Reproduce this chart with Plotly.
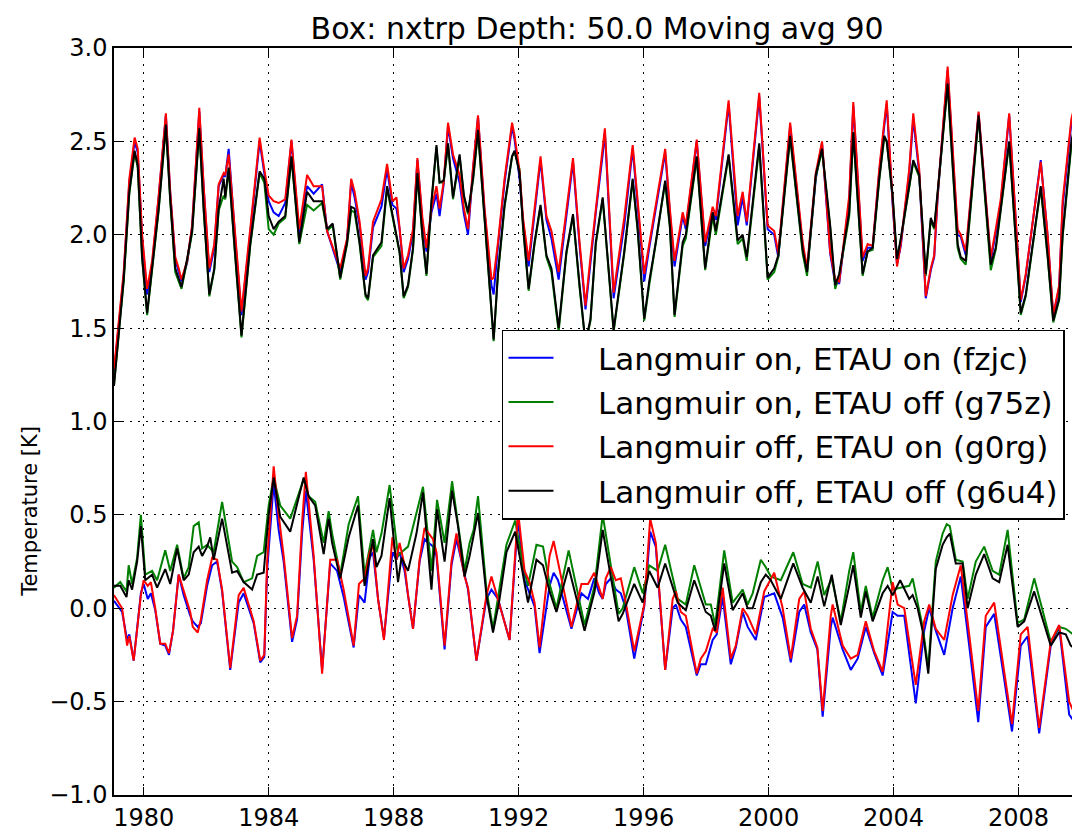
import plotly.graph_objects as go

# ---------------- data ----------------
years_upper = [1979.05, 1979.36, 1979.54, 1979.71, 1979.81, 1979.95, 1980.11, 1980.27, 1980.48, 1980.71,
               1980.85, 1981.01, 1981.12, 1981.21, 1981.39, 1981.55, 1981.78, 1981.92, 1982.10, 1982.26,
               1982.40, 1982.56, 1982.61, 1982.72, 1982.93, 1983.13, 1983.41, 1983.71, 1983.86, 1984.00,
               1984.16, 1984.32, 1984.53, 1984.73, 1984.98, 1985.23, 1985.44, 1985.71, 1985.87, 1986.05,
               1986.29, 1986.51, 1986.64, 1986.75, 1986.91, 1987.10, 1987.18, 1987.34, 1987.61, 1987.79,
               1987.96, 1988.09, 1988.19, 1988.32, 1988.46, 1988.62, 1988.76, 1988.92, 1989.05, 1989.21,
               1989.37, 1989.47, 1989.60, 1989.74, 1989.90, 1990.11, 1990.25, 1990.38, 1990.54, 1990.70,
               1990.91, 1991.13, 1991.20, 1991.34, 1991.55, 1991.79, 1991.87, 1992.03, 1992.14, 1992.32,
               1992.51, 1992.70, 1992.89, 1993.05, 1993.28, 1993.53, 1993.74, 1993.95, 1994.14, 1994.30,
               1994.47, 1994.69, 1994.76, 1995.04, 1995.38, 1995.65, 1995.81, 1996.02, 1996.18, 1996.39,
               1996.69, 1996.84, 1996.99, 1997.25, 1997.35, 1997.70, 1997.97, 1998.21, 1998.31, 1998.72,
               1999.01, 1999.17, 1999.30, 1999.70, 1999.97, 2000.18, 2000.31, 2000.69, 2001.09, 2001.23,
               2001.51, 2001.71, 2001.97, 2002.13, 2002.26, 2002.58, 2002.71, 2003.01, 2003.17, 2003.33,
               2003.54, 2003.70, 2003.78, 2003.97, 2004.11, 2004.23, 2004.50, 2004.63, 2004.82, 2005.03,
               2005.19, 2005.30, 2005.41, 2005.73, 2006.05, 2006.15, 2006.31, 2006.72, 2007.11, 2007.27,
               2007.43, 2007.70, 2008.07, 2008.23, 2008.71, 2008.93, 2009.11, 2009.30, 2009.41, 2009.69,
               2009.75]

upper_g0rg = [1.28, 1.80, 2.30, 2.52, 2.46, 2.00, 1.71, 1.86, 2.21, 2.65,
              2.23, 1.88, 1.82, 1.76, 1.86, 2.05, 2.68, 2.26, 1.82, 1.95,
              2.27, 2.33, 2.32, 2.43, 2.00, 1.59, 2.03, 2.52, 2.35, 2.21,
              2.18, 2.17, 2.19, 2.51, 2.03, 2.32, 2.26, 2.26, 2.02, 1.93,
              1.82, 1.98, 2.30, 2.23, 2.07, 1.78, 1.82, 2.07, 2.19, 2.38,
              2.18, 2.20, 2.05, 1.82, 1.89, 2.03, 2.41, 2.09, 1.93, 2.14,
              2.26, 2.14, 2.28, 2.60, 2.43, 2.32, 2.14, 2.03, 2.36, 2.64,
              2.14, 1.76, 1.77, 1.96, 2.30, 2.60, 2.53, 2.34, 2.09, 1.86,
              2.14, 2.42, 2.10, 2.02, 1.80, 2.14, 2.41, 1.96, 1.62, 1.88,
              2.14, 2.45, 2.57, 1.69, 2.09, 2.48, 2.18, 1.79, 1.95, 2.16,
              2.46, 2.14, 1.86, 2.12, 2.05, 2.51, 1.96, 2.15, 2.10, 2.72,
              2.10, 2.23, 2.07, 2.76, 2.05, 2.02, 1.90, 2.60, 1.96, 1.82,
              2.33, 2.50, 1.91, 1.76, 1.75, 2.21, 2.71, 1.88, 1.95, 1.94,
              2.35, 2.60, 2.72, 2.18, 1.83, 1.95, 2.35, 2.65, 2.35, 1.67,
              1.82, 1.89, 2.21, 2.90, 2.03, 2.00, 1.91, 2.66, 1.88, 2.03,
              2.19, 2.65, 1.65, 1.79, 2.39, 2.00, 1.57, 1.73, 2.18, 2.62,
              2.66]

upper_fzjc = [1.26, 1.78, 2.28, 2.50, 2.44, 1.98, 1.68, 1.84, 2.20, 2.64,
              2.22, 1.87, 1.80, 1.75, 1.85, 2.04, 2.66, 2.25, 1.80, 1.93,
              2.26, 2.32, 2.31, 2.46, 1.98, 1.57, 2.01, 2.50, 2.33, 2.18,
              2.12, 2.10, 2.17, 2.50, 2.00, 2.26, 2.22, 2.27, 2.02, 1.92,
              1.80, 1.97, 2.28, 2.20, 2.05, 1.76, 1.80, 2.04, 2.15, 2.35,
              2.16, 2.14, 2.03, 1.80, 1.87, 2.01, 2.40, 2.07, 1.91, 2.12,
              2.22, 2.10, 2.27, 2.58, 2.41, 2.28, 2.11, 2.00, 2.35, 2.63,
              2.12, 1.73, 1.68, 1.94, 2.28, 2.58, 2.51, 2.30, 2.07, 1.83,
              2.12, 2.40, 2.08, 1.98, 1.76, 2.12, 2.39, 1.94, 1.60, 1.85,
              2.12, 2.43, 2.55, 1.66, 2.05, 2.46, 2.15, 1.75, 1.93, 2.14,
              2.44, 2.12, 1.83, 2.10, 2.03, 2.50, 1.94, 2.12, 2.08, 2.70,
              2.05, 2.20, 2.05, 2.74, 2.03, 2.00, 1.88, 2.58, 1.94, 1.80,
              2.30, 2.49, 1.90, 1.74, 1.74, 2.18, 2.69, 1.86, 1.93, 1.93,
              2.33, 2.58, 2.70, 2.16, 1.84, 1.94, 2.33, 2.62, 2.33, 1.66,
              1.81, 1.88, 2.20, 2.88, 2.00, 1.99, 1.89, 2.65, 1.86, 2.01,
              2.17, 2.64, 1.64, 1.78, 2.40, 1.99, 1.56, 1.72, 2.15, 2.60,
              2.64]

upper_g6u4 = [1.19, 1.76, 2.23, 2.45, 2.37, 1.88, 1.58, 1.82, 2.14, 2.59,
              2.19, 1.82, 1.76, 1.72, 1.87, 2.02, 2.57, 2.14, 1.68, 1.82,
              2.14, 2.30, 2.20, 2.36, 1.89, 1.46, 1.95, 2.34, 2.30, 2.10,
              2.03, 2.07, 2.10, 2.42, 1.96, 2.23, 2.18, 2.18, 2.03, 2.06,
              1.77, 1.96, 2.15, 2.14, 1.96, 1.68, 1.66, 1.89, 1.96, 2.26,
              2.11, 2.00, 1.91, 1.67, 1.73, 1.93, 2.33, 2.00, 1.79, 2.18,
              2.48, 2.28, 2.29, 2.49, 2.20, 2.43, 2.21, 2.12, 2.30, 2.56,
              2.09, 1.64, 1.44, 1.80, 2.16, 2.42, 2.45, 2.33, 2.05, 1.71,
              1.96, 2.16, 1.89, 1.82, 1.50, 1.91, 2.11, 1.73, 1.42, 1.55,
              1.96, 2.20, 2.05, 1.49, 1.91, 2.30, 2.03, 1.55, 1.75, 1.96,
              2.29, 2.05, 1.57, 1.96, 2.00, 2.42, 1.82, 2.12, 2.02, 2.43,
              1.97, 2.00, 1.88, 2.49, 1.77, 1.82, 1.89, 2.53, 1.92, 1.80,
              2.32, 2.46, 2.05, 1.73, 1.79, 2.12, 2.55, 1.79, 1.91, 1.93,
              2.30, 2.53, 2.50, 2.21, 1.87, 1.98, 2.26, 2.40, 2.32, 1.79,
              2.09, 2.04, 2.23, 2.81, 1.95, 1.88, 1.86, 2.64, 1.84, 1.93,
              2.14, 2.50, 1.58, 1.68, 2.26, 1.89, 1.54, 1.66, 2.00, 2.50,
              2.55]

upper_g75z = [1.20, 1.75, 2.22, 2.44, 2.36, 1.87, 1.57, 1.80, 2.13, 2.58,
              2.18, 1.80, 1.75, 1.71, 1.86, 2.01, 2.56, 2.13, 1.67, 1.81,
              2.13, 2.21, 2.19, 2.35, 1.88, 1.45, 1.94, 2.33, 2.28, 2.03,
              2.00, 2.06, 2.09, 2.41, 1.95, 2.16, 2.13, 2.17, 2.02, 2.05,
              1.76, 1.95, 2.13, 2.12, 1.95, 1.67, 1.65, 1.88, 1.94, 2.25,
              2.10, 1.99, 1.90, 1.66, 1.72, 1.92, 2.32, 1.99, 1.78, 2.17,
              2.47, 2.28, 2.28, 2.48, 2.19, 2.42, 2.20, 2.11, 2.29, 2.55,
              2.08, 1.63, 1.43, 1.79, 2.15, 2.42, 2.44, 2.35, 2.04, 1.70,
              1.95, 2.15, 1.88, 1.80, 1.48, 1.90, 2.10, 1.72, 1.41, 1.54,
              1.95, 2.19, 2.04, 1.48, 1.90, 2.29, 2.02, 1.54, 1.73, 1.95,
              2.28, 2.04, 1.56, 1.94, 1.98, 2.41, 1.81, 2.10, 2.00, 2.42,
              1.95, 1.98, 1.86, 2.47, 1.76, 1.80, 1.88, 2.52, 1.90, 1.78,
              2.31, 2.45, 2.04, 1.71, 1.78, 2.10, 2.54, 1.78, 1.91, 1.92,
              2.29, 2.52, 2.50, 2.20, 1.86, 1.97, 2.25, 2.39, 2.31, 1.78,
              2.08, 2.03, 2.22, 2.80, 1.93, 1.87, 1.84, 2.63, 1.81, 1.92,
              2.13, 2.49, 1.57, 1.67, 2.25, 1.88, 1.53, 1.65, 1.99, 2.48,
              2.53]

years_lower_on = [1979.05, 1979.31, 1979.47, 1979.54, 1979.68, 1979.80, 1979.91, 1980.00, 1980.13, 1980.23,
                  1980.37, 1980.53, 1980.69, 1980.81, 1980.94, 1981.12, 1981.28, 1981.49, 1981.57, 1981.73,
                  1981.83, 1982.03, 1982.19, 1982.35, 1982.51, 1982.77, 1983.04, 1983.20, 1983.52, 1983.73,
                  1983.86, 1983.95, 1984.16, 1984.32, 1984.48, 1984.75, 1984.91, 1985.07, 1985.19, 1985.44,
                  1985.71, 1985.97, 1986.19, 1986.40, 1986.72, 1986.89, 1987.07, 1987.23, 1987.34, 1987.50,
                  1987.69, 1987.96, 1988.09, 1988.19, 1988.35, 1988.46, 1988.62, 1988.83, 1988.99, 1989.26,
                  1989.37, 1989.63, 1989.85, 1990.01, 1990.27, 1990.38, 1990.65, 1990.97, 1991.13, 1991.34,
                  1991.71, 1991.98, 1992.19, 1992.35, 1992.51, 1992.67, 1992.99, 1993.12, 1993.26, 1993.69,
                  1994.01, 1994.22, 1994.42, 1994.58, 1994.69, 1994.79, 1994.95, 1995.11, 1995.27, 1995.43,
                  1995.70, 1996.02, 1996.21, 1996.39, 1996.69, 1996.93, 1997.03, 1997.19, 1997.35, 1997.70,
                  1997.83, 1997.99, 1998.21, 1998.34, 1998.53, 1998.79, 1998.95, 1999.17, 1999.33, 1999.59,
                  1999.86, 2000.18, 2000.45, 2000.71, 2000.98, 2001.14, 2001.35, 2001.56, 2001.73, 2001.99,
                  2002.05, 2002.37, 2002.63, 2002.85, 2003.11, 2003.38, 2003.65, 2003.97, 2004.13, 2004.34,
                  2004.71, 2004.98, 2005.14, 2005.35, 2005.62, 2005.89, 2006.15, 2006.42, 2006.71, 2006.95,
                  2007.22, 2007.54, 2007.79, 2008.07, 2008.29, 2008.66, 2009.03, 2009.30, 2009.62, 2009.75]

lower_g0rg = [0.07, 0.00, -0.20, -0.15, -0.28, -0.10, 0.07, 0.15, 0.12, 0.14,
              0.00, -0.19, -0.19, -0.24, -0.12, 0.18, 0.09, -0.02, -0.10, -0.13,
              -0.06, 0.15, 0.27, 0.26, 0.10, -0.32, 0.07, 0.11, -0.07, -0.28,
              -0.25, 0.25, 0.76, 0.50, 0.28, -0.16, -0.04, 0.46, 0.73, 0.28,
              -0.35, 0.26, 0.26, 0.10, -0.20, 0.13, 0.16, 0.30, 0.34, 0.05,
              -0.17, 0.38, 0.26, 0.35, 0.23, 0.07, -0.11, 0.26, 0.43, 0.37,
              0.30, -0.20, 0.25, 0.40, 0.17, 0.11, -0.28, 0.07, 0.17, 0.05,
              -0.17, 0.52, 0.20, 0.14, 0.03, -0.21, 0.28, 0.36, 0.25, -0.10,
              0.13, 0.13, 0.19, 0.11, 0.05, 0.16, 0.22, 0.15, 0.16, 0.03,
              -0.23, 0.02, 0.48, 0.35, -0.33, 0.05, 0.09, -0.02, -0.04, -0.35,
              -0.27, -0.23, -0.11, -0.13, 0.11, -0.27, -0.20, 0.00, -0.04, -0.14,
              0.09, 0.19, 0.00, -0.27, 0.05, 0.09, -0.11, -0.21, -0.55, -0.04,
              0.02, -0.20, -0.27, -0.25, -0.07, -0.23, -0.34, 0.14, 0.02, 0.00,
              -0.41, -0.07, 0.02, -0.11, -0.17, 0.07, 0.23, -0.14, -0.55, -0.04,
              0.03, -0.34, -0.62, -0.14, -0.10, -0.64, -0.18, -0.09, -0.50, -0.55]

lower_fzjc = [0.04, -0.02, -0.17, -0.14, -0.28, -0.10, 0.08, 0.13, 0.05, 0.08,
              -0.01, -0.19, -0.20, -0.25, -0.12, 0.18, 0.07, -0.04, -0.07, -0.10,
              -0.08, 0.12, 0.23, 0.25, 0.09, -0.33, 0.03, 0.08, -0.08, -0.29,
              -0.26, 0.20, 0.67, 0.42, 0.25, -0.18, -0.06, 0.40, 0.63, 0.26,
              -0.33, 0.24, 0.20, 0.06, -0.21, 0.07, 0.03, 0.27, 0.30, 0.05,
              -0.16, 0.30, 0.26, 0.30, 0.20, 0.07, -0.11, 0.25, 0.37, 0.33,
              0.28, -0.22, 0.23, 0.37, 0.17, 0.10, -0.28, 0.05, 0.10, 0.05,
              -0.17, 0.48, 0.15, 0.08, 0.01, -0.24, 0.12, 0.19, 0.15, -0.11,
              0.08, 0.05, 0.16, 0.08, 0.05, 0.13, 0.16, 0.10, 0.08, 0.00,
              -0.27, 0.01, 0.41, 0.33, -0.33, 0.00, 0.02, -0.06, -0.10, -0.36,
              -0.30, -0.30, -0.17, -0.14, 0.06, -0.30, -0.21, -0.02, -0.10, -0.17,
              0.06, 0.08, -0.05, -0.29, -0.02, 0.02, -0.13, -0.22, -0.58, -0.10,
              -0.05, -0.22, -0.33, -0.27, -0.10, -0.24, -0.36, -0.02, -0.04, -0.04,
              -0.51, -0.12, 0.00, -0.12, -0.25, 0.00, 0.17, -0.20, -0.61, -0.10,
              -0.03, -0.38, -0.66, -0.20, -0.15, -0.67, -0.20, -0.10, -0.57, -0.60]

years_lower_off = [1979.05, 1979.25, 1979.45, 1979.52, 1979.63, 1979.79, 1979.91, 1980.05, 1980.27, 1980.43,
                   1980.69, 1980.85, 1981.07, 1981.28, 1981.44, 1981.60, 1981.76, 1981.87, 1982.03, 1982.13,
                   1982.24, 1982.51, 1982.83, 1982.99, 1983.20, 1983.47, 1983.63, 1983.84, 1984.00, 1984.16,
                   1984.37, 1984.69, 1985.12, 1985.28, 1985.49, 1985.76, 1985.92, 1986.03, 1986.29, 1986.56,
                   1986.86, 1987.07, 1987.34, 1987.45, 1987.61, 1987.87, 1988.14, 1988.25, 1988.46, 1988.73,
                   1988.94, 1989.21, 1989.39, 1989.63, 1989.87, 1990.06, 1990.27, 1990.43, 1990.56, 1990.70,
                   1990.97, 1991.18, 1991.39, 1991.61, 1991.89, 1992.14, 1992.30, 1992.57, 1992.78, 1992.99,
                   1993.21, 1993.60, 1994.11, 1994.43, 1994.69, 1995.01, 1995.20, 1995.33, 1995.70, 1995.97,
                   1996.18, 1996.45, 1996.69, 1997.09, 1997.35, 1997.62, 1997.99, 1998.15, 1998.29, 1998.58,
                   1998.85, 1999.17, 1999.33, 1999.49, 1999.75, 1999.91, 2000.07, 2000.39, 2000.79, 2001.09,
                   2001.35, 2001.57, 2001.78, 2002.02, 2002.31, 2002.58, 2002.71, 2002.95, 2003.11, 2003.33,
                   2003.65, 2003.81, 2003.97, 2004.21, 2004.50, 2004.61, 2004.77, 2004.93, 2005.11, 2005.35,
                   2005.57, 2005.70, 2005.80, 2005.99, 2006.21, 2006.37, 2006.63, 2006.90, 2007.17, 2007.38,
                   2007.65, 2007.97, 2008.18, 2008.50, 2009.03, 2009.30, 2009.51, 2009.67, 2009.75]

lower_g6u4 = [0.12, 0.12, 0.06, 0.15, 0.10, 0.25, 0.44, 0.15, 0.18, 0.11,
              0.21, 0.13, 0.32, 0.15, 0.18, 0.30, 0.33, 0.28, 0.33, 0.38,
              0.26, 0.48, 0.19, 0.20, 0.14, 0.10, 0.18, 0.19, 0.50, 0.70,
              0.49, 0.41, 0.70, 0.60, 0.55, 0.29, 0.48, 0.35, 0.16, 0.38,
              0.55, 0.12, 0.37, 0.22, 0.28, 0.59, 0.14, 0.27, 0.20, 0.40,
              0.62, 0.10, 0.53, 0.25, 0.63, 0.44, 0.17, 0.28, 0.39, 0.51,
              0.07, -0.13, 0.05, 0.30, 0.41, 0.18, 0.03, 0.26, 0.23, 0.09,
              -0.02, 0.22, -0.12, 0.09, 0.42, 0.11, -0.07, -0.03, 0.13, 0.03,
              0.20, 0.11, 0.24, 0.03, -0.01, 0.15, -0.02, -0.04, -0.12, 0.24,
              -0.01, 0.08, 0.00, 0.00, 0.14, 0.18, 0.15, 0.05, 0.24, 0.11,
              0.03, 0.17, 0.01, 0.18, -0.09, 0.12, 0.23, -0.05, 0.09, -0.07,
              0.08, 0.12, 0.07, 0.15, 0.05, 0.07, 0.00, -0.12, -0.35, 0.21,
              0.34, 0.38, 0.40, 0.24, 0.24, 0.00, 0.18, 0.29, 0.16, 0.14,
              0.34, -0.10, -0.07, 0.09, -0.20, -0.13, -0.14, -0.20, -0.21]

lower_g75z = [0.11, 0.14, 0.09, 0.23, 0.13, 0.27, 0.50, 0.18, 0.20, 0.15,
              0.31, 0.20, 0.34, 0.16, 0.22, 0.44, 0.46, 0.32, 0.34, 0.32,
              0.30, 0.57, 0.25, 0.22, 0.14, 0.16, 0.28, 0.30, 0.55, 0.70,
              0.55, 0.48, 0.69, 0.60, 0.57, 0.35, 0.52, 0.40, 0.18, 0.45,
              0.60, 0.18, 0.42, 0.30, 0.40, 0.66, 0.28, 0.30, 0.33, 0.51,
              0.65, 0.20, 0.58, 0.35, 0.68, 0.45, 0.20, 0.35, 0.42, 0.60,
              0.10, -0.11, 0.10, 0.34, 0.47, 0.23, 0.12, 0.34, 0.33, 0.13,
              0.00, 0.31, -0.09, 0.12, 0.50, 0.16, -0.03, 0.00, 0.22, 0.08,
              0.23, 0.20, 0.34, 0.05, 0.02, 0.23, 0.02, 0.02, -0.09, 0.31,
              0.03, 0.10, 0.02, 0.08, 0.26, 0.22, 0.17, 0.15, 0.30, 0.13,
              0.11, 0.25, 0.07, 0.16, -0.07, 0.20, 0.30, -0.02, 0.12, -0.05,
              0.15, 0.22, 0.10, 0.11, 0.12, 0.16, 0.02, -0.10, -0.32, 0.25,
              0.40, 0.45, 0.44, 0.26, 0.25, 0.05, 0.25, 0.33, 0.20, 0.18,
              0.42, -0.08, -0.06, 0.16, -0.18, -0.10, -0.11, -0.13, -0.14]

series_names = {
    "fzjc": "Langmuir on, ETAU on (fzjc)",
    "g75z": "Langmuir on, ETAU off (g75z)",
    "g0rg": "Langmuir off, ETAU on (g0rg)",
    "g6u4": "Langmuir off, ETAU off (g6u4)",
}
series_colors = {"fzjc": "#0000ff", "g75z": "#008000", "g0rg": "#ff0000", "g6u4": "#000000"}

x_tick_vals = [1980, 1984, 1988, 1992, 1996, 2000, 2004, 2008]
x_tick_text = ["1980", "1984", "1988", "1992", "1996", "2000", "2004", "2008"]
y_tick_vals = [-1.0, -0.5, 0.0, 0.5, 1.0, 1.5, 2.0, 2.5, 3.0]

title_text = "Box: nxtrp Depth: 50.0 Moving avg 90"
y_title = "Temperature [K]"

# ---------------- figure ----------------
upper = {"fzjc": upper_fzjc, "g75z": upper_g75z, "g0rg": upper_g0rg, "g6u4": upper_g6u4}
lower = {"fzjc": (years_lower_on, lower_fzjc), "g75z": (years_lower_off, lower_g75z),
         "g0rg": (years_lower_on, lower_g0rg), "g6u4": (years_lower_off, lower_g6u4)}

FONT = "DejaVu Sans"
NBSP = "\u00a0"
fig = go.Figure()
for key in ["fzjc", "g75z", "g0rg", "g6u4"]:
    fig.add_trace(go.Scatter(x=years_upper, y=upper[key], mode="lines",
                             name=NBSP * 4 + series_names[key],
                             legendgroup=key, line=dict(color=series_colors[key], width=2)))
    lx, ly = lower[key]
    fig.add_trace(go.Scatter(x=lx, y=ly, mode="lines", name=series_names[key], legendgroup=key,
                             showlegend=False, line=dict(color=series_colors[key], width=2)))

axis_common = dict(ticks="inside", ticklen=8, tickwidth=1, tickcolor="black",
                   showline=True, linecolor="black", linewidth=1.5,
                   showgrid=True, gridcolor="black", gridwidth=1, griddash="2px,6px",
                   zeroline=False, tickfont=dict(family=FONT, size=24, color="black"))

fig.update_layout(
    width=1072, height=832,
    margin=dict(l=114, r=0, t=48, b=31),
    paper_bgcolor="white", plot_bgcolor="white",
    font=dict(family=FONT, color="black"),
    title=dict(text=title_text, font=dict(family=FONT, size=30, color="black"),
               x=0.557, xref="container", xanchor="center", y=1 - 28 / 832, yref="container", yanchor="middle"),
    xaxis=dict(range=[1979.05, 2009.71], tickvals=x_tick_vals, ticktext=x_tick_text,
               mirror="ticks", **axis_common),
    yaxis=dict(range=[-1.0, 3.0], tickvals=y_tick_vals, tickformat=".1f", mirror=False, **axis_common),
    legend=dict(x=0.405, y=0.623, xanchor="left", yanchor="top", bgcolor="white",
                bordercolor="black", borderwidth=1.5, font=dict(family=FONT, size=31, color="black"),
                traceorder="grouped", tracegroupgap=1, itemwidth=45),
    showlegend=True,
    annotations=[dict(text=y_title, x=-0.088, y=0.38, xref="paper", yref="paper", textangle=-90,
                      showarrow=False, font=dict(family=FONT, size=21, color="black"),
                      xanchor="center", yanchor="middle")],
)

fig.write_html("out.html", config={"displayModeBar": False},
               post_script="document.body.style.margin='0px';document.body.style.overflow='hidden';")
